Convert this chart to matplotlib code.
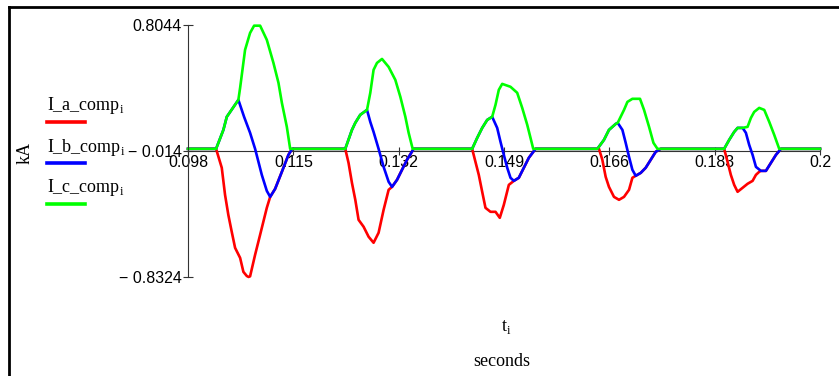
import matplotlib
matplotlib.use("Agg")
import matplotlib.pyplot as plt
from matplotlib.lines import Line2D

plt.rcParams['mathtext.fontset'] = 'custom'
plt.rcParams['mathtext.rm'] = 'Liberation Serif'

# time axis (seconds) and compensating currents (kA)
t_a = [0.098,
       0.10253, 0.10345, 0.10398, 0.10451, 0.10506, 0.10560, 0.10641, 0.10694, 0.10749, 0.10778,
       0.10802, 0.10883, 0.10964, 0.11072, 0.11126, 0.11206, 0.11315, 0.11421, 0.11481,
       0.12338, 0.12391, 0.12446, 0.12500, 0.12553, 0.12634, 0.12715, 0.12795, 0.12876, 0.12957,
       0.13038, 0.13093, 0.13174, 0.13254, 0.13335, 0.13442,
       0.14386, 0.14439, 0.14493, 0.14548, 0.14601, 0.14682, 0.14763, 0.14832, 0.14897, 0.14978,
       0.15059, 0.15139, 0.15220, 0.15301, 0.15409,
       0.16433, 0.16487, 0.16541, 0.16594, 0.16675, 0.16756, 0.16837, 0.16918, 0.16972, 0.17026,
       0.17107, 0.17187, 0.17268, 0.17349, 0.17430,
       0.18453, 0.18508, 0.18561, 0.18615, 0.18670, 0.18751, 0.18831, 0.18912, 0.18966, 0.19019,
       0.19046, 0.19127, 0.19208, 0.19289, 0.19370,
       0.2]
i_a = [0,
       0, -0.123, -0.299, -0.429, -0.539, -0.643, -0.708, -0.799, -0.826, -0.832,
       -0.828, -0.688, -0.558, -0.383, -0.312, -0.260, -0.149, -0.039, 0,
       0, -0.091, -0.221, -0.331, -0.461, -0.506, -0.571, -0.610, -0.545, -0.396,
       -0.266, -0.247, -0.201, -0.136, -0.071, 0,
       0, -0.084, -0.169, -0.279, -0.383, -0.409, -0.409, -0.448, -0.364, -0.234,
       -0.208, -0.188, -0.123, -0.058, 0,
       0, -0.071, -0.182, -0.247, -0.312, -0.331, -0.312, -0.266, -0.188, -0.175,
       -0.156, -0.123, -0.071, -0.019, 0,
       0, -0.084, -0.169, -0.234, -0.279, -0.253, -0.227, -0.208, -0.169, -0.149,
       -0.143, -0.143, -0.091, -0.039, 0,
       0]

t_b = [0.098,
       0.10253, 0.10371, 0.10426, 0.10613, 0.10705, 0.10802, 0.10883, 0.10991, 0.11072, 0.11126,
       0.11206, 0.11315, 0.11421, 0.11481,
       0.12338, 0.12446, 0.12500, 0.12580, 0.12689, 0.12742, 0.12795, 0.12876, 0.12957, 0.13038,
       0.13093, 0.13174, 0.13254, 0.13335, 0.13442,
       0.14386, 0.14467, 0.14548, 0.14629, 0.14709, 0.14790, 0.14844, 0.14897, 0.14952, 0.15005,
       0.15059, 0.15139, 0.15220, 0.15301, 0.15409,
       0.16407, 0.16513, 0.16594, 0.16703, 0.16735, 0.16811, 0.16864, 0.16918, 0.16972, 0.17026,
       0.17107, 0.17187, 0.17268, 0.17349, 0.17430,
       0.18453, 0.18534, 0.18615, 0.18670, 0.18751, 0.18804, 0.18857, 0.18912, 0.18966, 0.19046,
       0.19127, 0.19208, 0.19289, 0.19370,
       0.2]
i_b = [0,
       0, 0.123, 0.208, 0.318, 0.208, 0.104, 0, -0.169, -0.273, -0.312,
       -0.260, -0.149, -0.039, 0,
       0, 0.123, 0.169, 0.221, 0.253, 0.175, 0.110, 0, -0.117, -0.214,
       -0.247, -0.201, -0.136, -0.071, 0,
       0, 0.071, 0.136, 0.188, 0.208, 0.136, 0.045, -0.039, -0.123, -0.188,
       -0.208, -0.188, -0.123, -0.058, 0,
       0, 0.058, 0.123, 0.162, 0.169, 0.123, 0.039, -0.052, -0.136, -0.175,
       -0.156, -0.123, -0.071, -0.019, 0,
       0, 0.058, 0.110, 0.136, 0.136, 0.104, 0.026, -0.039, -0.117, -0.143,
       -0.143, -0.091, -0.039, 0,
       0]

t_c = [0.098,
       0.10253, 0.10371, 0.10426, 0.10613, 0.10641, 0.10721, 0.10802, 0.10867, 0.10964, 0.11072,
       0.11179, 0.11260, 0.11315, 0.11395, 0.11449,
       0.12338, 0.12446, 0.12500, 0.12580, 0.12689, 0.12742, 0.12795, 0.12850, 0.12931, 0.13038,
       0.13146, 0.13227, 0.13308, 0.13361, 0.13426,
       0.14386, 0.14467, 0.14548, 0.14629, 0.14709, 0.14763, 0.14816, 0.14871, 0.15005, 0.15113,
       0.15194, 0.15275, 0.15328, 0.15372,
       0.16407, 0.16513, 0.16594, 0.16703, 0.16735, 0.16837, 0.16892, 0.16972, 0.17095, 0.17160,
       0.17241, 0.17312, 0.17377,
       0.18453, 0.18534, 0.18615, 0.18670, 0.18751, 0.18831, 0.18885, 0.18938, 0.19019, 0.19100,
       0.19181, 0.19261, 0.19342,
       0.2]
i_c = [0,
       0, 0.123, 0.208, 0.318, 0.396, 0.643, 0.753, 0.800, 0.800, 0.708,
       0.558, 0.429, 0.299, 0.143, 0,
       0, 0.123, 0.169, 0.221, 0.253, 0.364, 0.513, 0.558, 0.584, 0.532,
       0.448, 0.338, 0.208, 0.104, 0,
       0, 0.071, 0.136, 0.188, 0.208, 0.286, 0.383, 0.422, 0.403, 0.364,
       0.266, 0.156, 0.071, 0,
       0, 0.058, 0.123, 0.162, 0.169, 0.253, 0.305, 0.325, 0.325, 0.253,
       0.143, 0.039, 0,
       0, 0.058, 0.110, 0.136, 0.136, 0.143, 0.201, 0.240, 0.266, 0.253,
       0.175, 0.091, 0,
       0]

x_ticks = [0.098, 0.115, 0.132, 0.149, 0.166, 0.183, 0.2]
x_labels = ['0.098', '0.115', '0.132', '0.149', '0.166', '0.183', '0.2']
y_ticks = [0.8044, -0.014, -0.8324]
y_labels = ['0.8044', '\u2212 0.014', '\u2212 0.8324']

series = [('I_a_comp', 'red', t_a, i_a),
          ('I_b_comp', 'blue', t_b, i_b),
          ('I_c_comp', '#00ff00', t_c, i_c)]

W, H = 839, 376
fig = plt.figure(figsize=(W / 100, H / 100), dpi=100)
ax = fig.add_axes([188 / W, 1 - 277 / H, 632 / W, 252 / H])

for name, col, t, v in series:
    ax.plot(t, v, color=col, lw=1.9, solid_joinstyle='round', clip_on=False)

ax.set_xlim(0.098, 0.2)
ax.set_ylim(-0.8324, 0.8044)

for s in ['top', 'right']:
    ax.spines[s].set_visible(False)
ax.spines['bottom'].set_position(('data', -0.014))
ax.spines['bottom'].set_zorder(0)
for s in ['left', 'bottom']:
    ax.spines[s].set_color('#333333')
    ax.spines[s].set_linewidth(0.8)

ax.set_xticks(x_ticks)
ax.set_xticklabels(x_labels, family='Liberation Sans', fontsize=11.5)
ax.set_yticks(y_ticks)
ax.set_yticklabels(y_labels, family='Liberation Sans', fontsize=11.5)
ax.tick_params(axis='x', direction='inout', length=6, width=0.8, color='#333333', pad=0)
ax.tick_params(axis='y', direction='inout', length=7, width=0.8, color='#333333', pad=1)
ax.patch.set_visible(False)

# legend drawn by hand on the left side
leg_y = [106, 147, 188]
for (name, col, t, v), y in zip(series, leg_y):
    fig.text(47 / W, 1 - y / H, name + r'$_{\mathrm{i}}$', family='Liberation Serif',
             fontsize=13, va='center', ha='left')
    fig.add_artist(Line2D([47 / W, 85 / W], [1 - (y + 16) / H] * 2, color=col, lw=2.6,
                          transform=fig.transFigure))

fig.text(25 / W, 1 - 153 / H, 'kA', family='Liberation Serif', fontsize=13,
         rotation=90, va='center', ha='center')
fig.text(506 / W, 1 - 327 / H, r't$_{\mathrm{i}}$', family='Liberation Serif', fontsize=13,
         va='center', ha='center')
fig.text(502 / W, 1 - 362 / H, 'seconds', family='Liberation Serif', fontsize=13,
         va='center', ha='center')

# frame lines (top and left)
fig.add_artist(Line2D([9 / W, 1], [1 - 7 / H] * 2, color='black', lw=2,
                      transform=fig.transFigure))
fig.add_artist(Line2D([9 / W, 9 / W], [1 - 7 / H, 0], color='black', lw=2,
                      transform=fig.transFigure))

fig.savefig('out.png', dpi=100)
plt.close()
